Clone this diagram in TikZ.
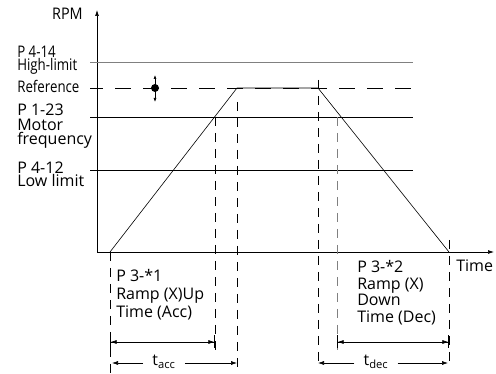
\documentclass[tikz,border=0pt]{standalone}
\usepackage{graphicx}
\usepackage{fontspec}
\setmainfont{Open Sans}
\usetikzlibrary{arrows.meta}

\tikzset{
  tip/.style={-{Latex[length=6pt,width=4pt]}},
  span/.style={{Bar[width=13pt]Latex[length=6pt,width=4pt]}-{Latex[length=6pt,width=4pt]Bar[width=13pt]}},
  vdash/.style={dash pattern=on 9pt off 7pt},
  hdash/.style={dash pattern=on 16pt off 12pt, dash phase=3pt},
  lbl/.style={anchor=base west, inner sep=0pt, font=\fontsize{16}{16}\selectfont},
  sub/.style={inner sep=0pt, inner xsep=9pt, font=\fontsize{16}{16}\selectfont},
}

\begin{document}
\begin{tikzpicture}[x=1pt, y=-1pt, line width=0.6pt]
    \useasboundingbox (0,0) rectangle (496,374);

    % axes
    \coordinate (O) at (97,252);
    \draw[tip, line width=0.7pt] (O) -- (97,10) coordinate (ytop);
    \draw[tip, line width=0.7pt] (O) -- (494,252) coordinate (xend);
    \node[lbl, anchor=base east] (rpm) at (83,20) {\scalebox{0.9}[1]{RPM}};
    \node[lbl] (time) at (456,272) {Time};

    % levels
    \draw[gray, line width=0.9pt] (90,62) -- (413,62);
    \draw[hdash] (90,88) -- (413,88);
    \draw (90,117) -- (413,117);
    \draw (90,170) -- (413,170);

    % reference marker
    \coordinate (ref) at (155,88);
    \draw[{Latex[length=4pt,width=3pt]}-{Latex[length=4pt,width=3pt]}] (155,75) -- (155,102);
    \fill (ref) circle[radius=4pt];

    % ramp
    \coordinate (A) at (110,252);
    \coordinate (B) at (237,88);
    \coordinate (C) at (318,88);
    \coordinate (D) at (449,252);
    \draw (A) -- (B) -- (C) -- (D);

    % time marks
    \draw[vdash] (A) -- (110,374);
    \draw[vdash] (215,117) -- (215,350);
    \draw[vdash] (237,102) -- (237,368);
    \draw[vdash] (318,80) -- (318,368);
    \draw[vdash, gray] (337,117) -- (337,350);
    \draw[vdash] (449,240) -- (449,368);

    \draw[span] (110,342) -- (215,342);
    \draw[span] (337,342) -- (449,342);

    \node[sub] (tacc) at (164,362) {t\textsubscript{acc}};
    \draw[tip] (tacc.west |- 0,363) -- (112,363);
    \draw[tip] (tacc.east |- 0,363) -- (237,363);
    \node[sub] (tdec) at (376,362) {t\textsubscript{dec}};
    \draw[tip] (tdec.west |- 0,363) -- (318,363);
    \draw[tip] (tdec.east |- 0,363) -- (448,363);

    % texts
    \foreach \t/\x/\y/\s [count=\i] in {P 4-14/17/58/0.83, High-limit/17/70.5/0.83, Reference/17/93/0.83,
        P 1-23/17/115.5/1, Motor/17/131/1, frequency/17/145/1, P 4-12/17/174/1, Low limit/17/187/1,
        P 3-*1/116/282/1, Ramp (X)Up/116/300/1, Time (Acc)/116/318/1,
        P 3-*2/357/273/1, Ramp (X)/357/290/1, Down/357/306/1, Time (Dec)/357/323/1}
        \node[lbl] (txt\i) at (\x,\y) {\scalebox{\s}[1]{\t}};
\end{tikzpicture}
\end{document}
